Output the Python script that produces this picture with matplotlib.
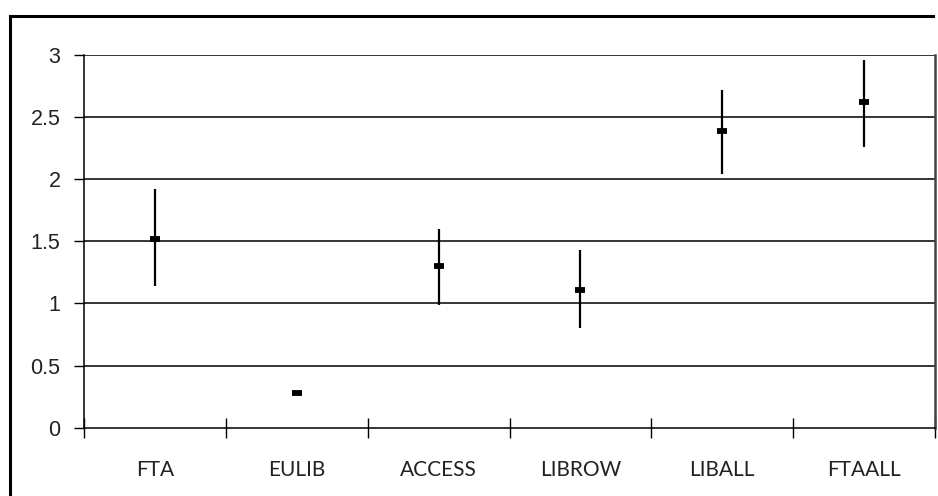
import numpy as np
import matplotlib.pyplot as plt
from matplotlib.lines import Line2D

# high / low / close per group
categories = ['FTA', 'EULIB', 'ACCESS', 'LIBROW', 'LIBALL', 'FTAALL']
high = [1.92, 0.28, 1.60, 1.43, 2.72, 2.96]
low = [1.14, 0.28, 0.99, 0.80, 2.04, 2.26]
close = [1.52, 0.28, 1.30, 1.11, 2.39, 2.62]

fig = plt.figure(figsize=(9.38, 4.96), dpi=100)
ax = fig.add_axes([0.0896, 0.1377, 0.9072, 0.7514])

x = np.arange(len(categories)) + 0.5

# horizontal gridlines behind everything
for yv in np.arange(0.5, 3.01, 0.5):
    ax.axhline(yv, color='black', lw=1.1, zorder=1)

ax.vlines(x, low, high, color='black', lw=1.6, zorder=3)
ax.plot(x, close, ls='none', marker='_', markersize=7.5, mew=4.2,
        color='black', zorder=4)

ax.set_xlim(0, len(categories))
ax.set_ylim(0, 3)
ax.set_yticks(np.arange(0, 3.01, 0.5))
ax.set_yticklabels(['0', '0.5', '1', '1.5', '2', '2.5', '3'],
                   fontsize=15.5, family='Liberation Sans', color='#222222')
ax.tick_params(axis='y', direction='out', length=7, width=1, pad=10)

ax.set_xticks(np.arange(0, len(categories) + 1))
ax.set_xticklabels([])
ax.tick_params(axis='x', which='major', direction='inout', length=15, width=1)
ax.set_xticks(x, minor=True)
ax.set_xticklabels(categories, minor=True, fontsize=15, family='Lato',
                   color='#222222')
ax.tick_params(axis='x', which='minor', length=0, pad=23)

for side in ['left', 'bottom', 'right']:
    ax.spines[side].set_color('black')
    ax.spines[side].set_linewidth(1.1)
ax.spines['right'].set_color('#444444')
ax.spines['right'].set_linewidth(1.8)
ax.spines['top'].set_visible(False)

# outer chart frame: only the top and left edges fall inside the canvas
fx, fy = 9.5 / 938, 1 - 15.5 / 496
fig.add_artist(Line2D([fx, fx], [0.0, fy], transform=fig.transFigure,
                      color='black', lw=2.2, solid_capstyle='projecting'))
fig.add_artist(Line2D([fx, 0.995], [fy, fy], transform=fig.transFigure,
                      color='black', lw=2.2, solid_capstyle='projecting'))

fig.savefig('out.png', dpi=100)
